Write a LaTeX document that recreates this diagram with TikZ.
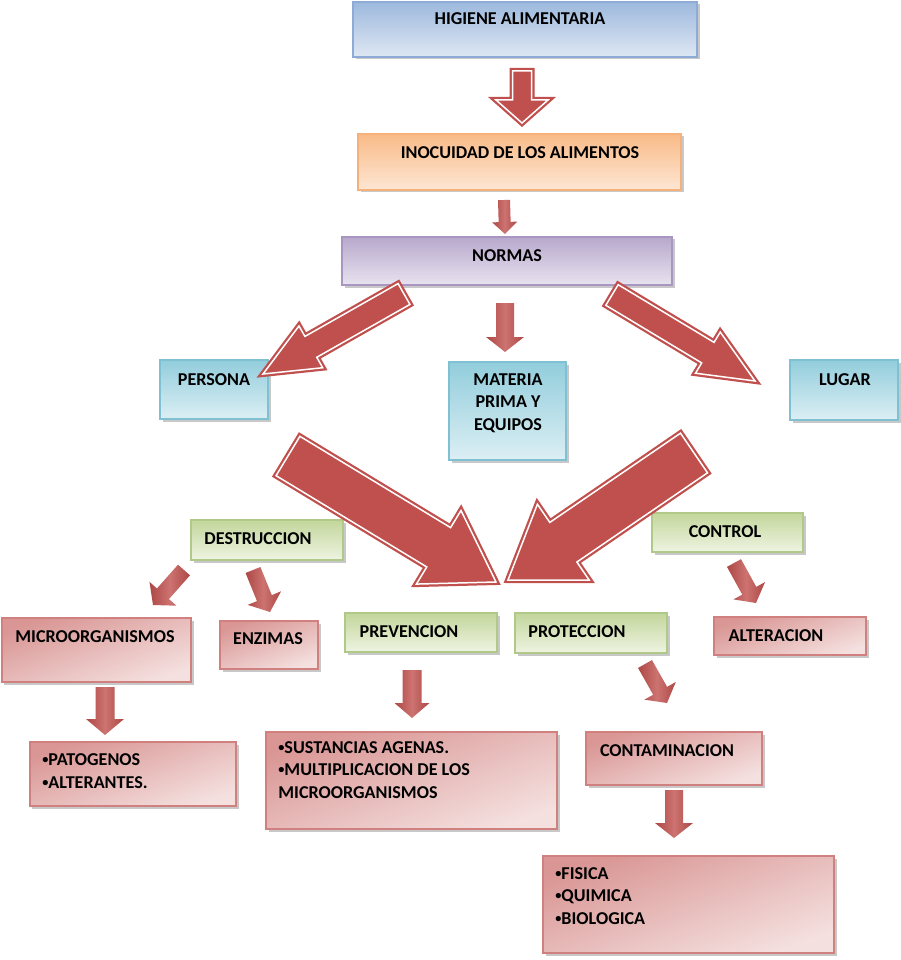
\documentclass[tikz,border=0pt]{standalone}
\usepackage{fontspec}
\setmainfont{Carlito}
\usetikzlibrary{calc,shadows}
\definecolor{arrowred}{HTML}{C0504D}
\definecolor{bluedk}{HTML}{9DB9DD}
\definecolor{bluelt}{HTML}{DEE7F3}
\definecolor{blueline}{HTML}{8EAAD6}
\definecolor{orangedk}{HTML}{F9BB88}
\definecolor{orangelt}{HTML}{FDE6D4}
\definecolor{orangeline}{HTML}{F6B07A}
\definecolor{purpledk}{HTML}{B8A8CC}
\definecolor{purplelt}{HTML}{E8E3EF}
\definecolor{purpleline}{HTML}{A895C0}
\definecolor{cyandk}{HTML}{92CDDC}
\definecolor{cyanlt}{HTML}{DCEFF4}
\definecolor{cyanline}{HTML}{7FC1D3}
\definecolor{greendk}{HTML}{C3D69B}
\definecolor{greenlt}{HTML}{EEF4E2}
\definecolor{greenline}{HTML}{B1C988}
\definecolor{reddk}{HTML}{D99694}
\definecolor{redlt}{HTML}{F4E0DF}
\definecolor{redline}{HTML}{D0807E}

% small bullet
\newcommand\bul{{\fontsize{7}{7}\selectfont\raisebox{0.35ex}{•}}}

% block arrow: [style]{tail}{tip}{shaft half width}{head half width}{head length}
\newcommand\blockarrow[6][]{%
  \coordinate (ba) at ($(#3)!#6!(#2)$);
  \path[#1] ($(#2)!#4!90:(#3)$) -- ($(ba)!#4!90:(#3)$) -- ($(ba)!#5!90:(#3)$) -- (#3)
    -- ($(ba)!#5!-90:(#3)$) -- ($(ba)!#4!-90:(#3)$) -- ($(#2)!#4!-90:(#3)$) -- cycle;
}

\begin{document}
\begin{tikzpicture}[
  x=0.2mm, y=-0.2mm,
  box/.style={rectangle,inner sep=0pt,line width=0.6pt,
    drop shadow={shadow xshift=0.5mm,shadow yshift=-0.5mm,opacity=0.3,fill=black!70}},
  bluebox/.style={box,draw=blueline,top color=bluedk,bottom color=bluelt},
  orangebox/.style={box,draw=orangeline,top color=orangedk,bottom color=orangelt},
  purplebox/.style={box,draw=purpleline,top color=purpledk,bottom color=purplelt},
  cyanbox/.style={box,draw=cyanline,top color=cyandk,bottom color=cyanlt},
  greenbox/.style={box,draw=greenline,top color=greendk,bottom color=greenlt},
  redbox/.style={box,draw=redline,top color=reddk,bottom color=redlt,shading angle=20},
  txt/.style={inner sep=0pt,align=center,font=\fontsize{10.3}{12.8}\selectfont\bfseries},
  bigarrow/.style={fill=arrowred,draw=arrowred,double=white,double distance=0.3mm,
    line width=0.45mm,line join=miter},
  smallarrow/.style={left color=arrowred!90!black,right color=arrowred!90!black,
    middle color=arrowred!80!white}
]
\fill[white] (0,0) rectangle (900,960);

% boxes
\node[bluebox,minimum width=68.8mm,minimum height=11mm] (higiene) at (525,29.5) {};
\node[txt] (higiene-t) at (520,19) {HIGIENE ALIMENTARIA};
\node[orangebox,minimum width=64.6mm,minimum height=11.2mm] (inocuidad) at (519.5,162) {};
\node[txt] (inocuidad-t) at (520,153) {INOCUIDAD DE LOS ALIMENTOS};
\node[purplebox,minimum width=66mm,minimum height=9.6mm] (normas) at (507,261) {};
\node[txt] (normas-t) at (507,256) {NORMAS};
\node[cyanbox,minimum width=21.6mm,minimum height=11.8mm] (persona) at (214,389.5) {};
\node[txt] (persona-t) at (214,380) {PERSONA};
\node[cyanbox,minimum width=23.4mm,minimum height=19.6mm] (materia) at (507.5,411) {};
\node[txt] (materia-t) at (508,403) {MATERIA\\PRIMA Y\\EQUIPOS};
\node[cyanbox,minimum width=21.6mm,minimum height=12mm] (lugar) at (844,390) {};
\node[txt] (lugar-t) at (845,380) {LUGAR};
\node[greenbox,minimum width=30.4mm,minimum height=8mm] (destruccion) at (267,540) {};
\node[txt] (destruccion-t) at (258,539) {DESTRUCCION};
\node[greenbox,minimum width=30.2mm,minimum height=7.8mm] (control) at (727.5,532.5) {};
\node[txt] (control-t) at (725,532) {CONTROL};
\node[redbox,minimum width=37.8mm,minimum height=12.8mm] (micro) at (96.5,650) {};
\node[txt] (micro-t) at (95,637) {MICROORGANISMOS};
\node[redbox,minimum width=19.6mm,minimum height=9.6mm] (enzimas) at (269,645) {};
\node[txt] (enzimas-t) at (268,639) {ENZIMAS};
\node[greenbox,minimum width=30.4mm,minimum height=7.8mm] (prevencion) at (421,632.5) {};
\node[txt] (prevencion-t) at (409,632) {PREVENCION};
\node[greenbox,minimum width=30.4mm,minimum height=8mm] (proteccion) at (591,633) {};
\node[txt] (proteccion-t) at (577,632) {PROTECCION};
\node[redbox,minimum width=30.4mm,minimum height=7.6mm] (alteracion) at (790,636) {};
\node[txt] (alteracion-t) at (776,636) {ALTERACION};
\node[redbox,minimum width=41.2mm,minimum height=12.8mm] (patogenos) at (133,774) {};
\node[txt,anchor=west,align=left] (patogenos-t) at (42,771) {\bul PATOGENOS\\\bul ALTERANTES.};
\node[redbox,minimum width=58.2mm,minimum height=19.4mm] (sustancias) at (411.5,780.5) {};
\node[txt,anchor=west,align=left] (sustancias-t) at (278,770) {\bul SUSTANCIAS AGENAS.\\\bul MULTIPLICACION DE LOS\\MICROORGANISMOS};
\node[redbox,minimum width=35.2mm,minimum height=10.6mm] (contaminacion) at (674,758.5) {};
\node[txt] (contaminacion-t) at (667,751) {CONTAMINACION};
\node[redbox,minimum width=58.2mm,minimum height=19.4mm] (fisica) at (688.5,904.5) {};
\node[txt,anchor=west,align=left] (fisica-t) at (555,896) {\bul FISICA\\\bul QUIMICA\\\bul BIOLOGICA};

% arrow ends
\coordinate (a1) at (522,71);    \coordinate (b1) at (522,123);
\coordinate (a2) at (404,294);   \coordinate (b2) at (263,374);
\coordinate (a3) at (612,295);   \coordinate (b3) at (755,381);
\coordinate (a4) at (288,456);   \coordinate (b4) at (496,582);
\coordinate (a5) at (694,453);   \coordinate (b5) at (508,580);
\coordinate (c1) at (504,200);   \coordinate (d1) at (505,234);
\coordinate (c2) at (505,303);   \coordinate (d2) at (505,352);
\coordinate (c3) at (184,570);   \coordinate (d3) at (153,605);
\coordinate (c4) at (253,570);   \coordinate (d4) at (270,612);
\coordinate (c5) at (105,687);   \coordinate (d5) at (105,735);
\coordinate (c6) at (412,670);   \coordinate (d6) at (412,718);
\coordinate (c7) at (645,664);   \coordinate (d7) at (667,703);
\coordinate (c8) at (734,563);   \coordinate (d8) at (756,603);
\coordinate (c9) at (674,790);   \coordinate (d9) at (674,838);

% big arrows
\blockarrow[bigarrow]{a1}{b1}{1.9mm}{5.2mm}{4.6mm}
\blockarrow[bigarrow]{a2}{b2}{2.4mm}{4.8mm}{11mm}
\blockarrow[bigarrow]{a3}{b3}{2.4mm}{4.8mm}{11mm}
\blockarrow[bigarrow]{a4}{b4}{4.6mm}{8.6mm}{13.4mm}
\blockarrow[bigarrow]{a5}{b5}{4.8mm}{9.2mm}{13.4mm}

% small arrows
\blockarrow[smallarrow]{c1}{d1}{1.2mm}{2.5mm}{2.4mm}
\blockarrow[smallarrow]{c2}{d2}{1.8mm}{3.8mm}{3mm}
\blockarrow[smallarrow]{c3}{d3}{1.6mm}{3.6mm}{3mm}
\blockarrow[smallarrow]{c4}{d4}{1.6mm}{3.6mm}{3mm}
\blockarrow[smallarrow]{c5}{d5}{1.9mm}{3.8mm}{3.2mm}
\blockarrow[smallarrow]{c6}{d6}{1.9mm}{3.5mm}{3mm}
\blockarrow[smallarrow]{c7}{d7}{1.6mm}{3.6mm}{2.8mm}
\blockarrow[smallarrow]{c8}{d8}{1.6mm}{3.6mm}{2.8mm}
\blockarrow[smallarrow]{c9}{d9}{1.8mm}{3.8mm}{3mm}
\end{tikzpicture}
\end{document}
